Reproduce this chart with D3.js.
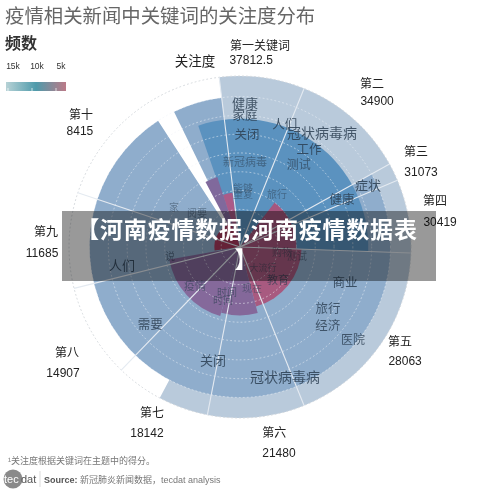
<!DOCTYPE html>
<html><head><meta charset="utf-8">
<script src="https://d3js.org/d3.v7.min.js"></script>
<style>html,body{margin:0;padding:0;background:#fff;}svg{display:block;filter:blur(.3px);}
text{font-family:"Liberation Sans","Noto Sans CJK SC",sans-serif;}</style>
</head><body><svg id="c" width="500" height="492"></svg>
<script>
// ---------- data (angles in degrees clockwise from north, scores 0-100) ----------
const outerStart=[-7], outerEnd=[208], outerScore=[100];
const midStart=[61,-26], midEnd=[327,-7], midScore=[88,88];
const deepStart=[-19], deepEnd=[92], deepScore=[75];
const hotStart=[-28,-18,38,92,165,196,262], hotEnd=[-18,-8,92,165,196,260,340];
const hotScore=[43,32,33,36,40,42,15];
const hotFill=["#80699c","#ab5b88","#a6567e","#a85a80","#84689a","#85699b","#a83a5c"];
const spokes=[-7,22,61,67,92,158,191,224,256,288.5];
const rings=[11,22,33,44,55,66,77,88,100];
const sectorNames=["第一关键词","第二","第三","第四","第五","第六","第七","第八","第九","第十"];
const sectorValues=["37812.5","34900","31073","30419","28063","21480","18142","14907","11685","8415"];
const nameAngle=[5.7,39,61.6,76.7,120.7,169.6,207.9,238.5,274.4,309.7];
const nameScore=[118.1,122.7,117,117.2,108.8,110.6,109.9,118.6,113.8,120.9];
const valueAngle=[3.4,43.2,67.5,82.9,124.6,169.3,206.6,234.6,268.3,305.9];
const valueScore=[109.5,117.1,114.6,117.9,117.3,122.6,121.6,127,115.8,115.6];
const words=["健康","家庭","关闭","新冠病毒","能够","重复","旅行","人们","冠状病毒病","工作","测试","症状","健康","家","阅要","说","人们","需要","关闭","冠状病毒病","医院","旅行","经济","商业","疫情","时间","时间","现在","教育","购物","大流行","测试"];
const wordAngle=[2,2.2,3.6,3.4,2.9,3.3,34.9,20.2,35.7,35.4,35.7,64.5,65.3,301.2,308.3,262,261.3,229,193.3,160.9,129.5,125.2,131.9,108.9,229,196,197.8,164,131,98,132.4,99];
const wordScore=[83.7,76.7,65.6,49.8,34.5,30.5,37.8,76,82.1,69.6,59,82.9,65.7,45.1,32,41.3,69.8,69.6,68.5,80.5,85.6,63,69,64.9,34.8,27.4,32.6,25.5,29.4,24.8,18.2,33.7];
const wordSize=[13,12.5,12.5,11,10,10,10,12.5,14,12.5,12,13,12.5,10,10,10,13,12.5,13,14,12,12.5,12.5,12.5,11,10,10,10,11,10,9,10];
const wordOpacity=[.85,.85,.85,.55,.5,.5,.5,.85,.85,.85,.7,.85,.85,.5,.5,.6,.85,.85,.85,.85,.8,.8,.8,.85,.6,.6,.6,.5,.7,.5,.5,.5];
const legendTicks=["15k","10k","5k"];

const svg=d3.select("#c");
const cx=240,cy=247;
const r=d3.scaleLinear().domain([0,100]).range([0,171]);
const ang=d3.scaleLinear().domain([0,360]).range([0,2*Math.PI]);
const arc=d3.arc();
const g=svg.append("g").attr("transform",`translate(${cx},${cy})`);
const polar=(a,s)=>[r(s)*Math.sin(ang(a)),-r(s)*Math.cos(ang(a))];

function layer(st,en,sc,fill){
  g.append("g").selectAll("path").data(st).join("path")
   .attr("d",(d,i)=>arc({innerRadius:0,outerRadius:r(sc[i]),startAngle:ang(st[i]),endAngle:ang(en[i])}))
   .attr("fill",(d,i)=>Array.isArray(fill)?fill[i]:fill);
}
layer(outerStart,outerEnd,outerScore,"#b9cadb");
layer(midStart,midEnd,midScore,"#8fadcc");
layer(deepStart,deepEnd,deepScore,"#5b92bf");
layer(hotStart,hotEnd,hotScore,hotFill);

g.append("g").selectAll("circle").data(rings).join("circle")
 .attr("r",d=>r(d)).attr("fill","none")
 .attr("stroke",d=>d===100?"#d4d8dc":"#eef3f8").attr("stroke-width",1)
 .attr("stroke-dasharray","1 3").attr("stroke-linecap","round").attr("opacity",d=>d===100?1:.55);

g.append("g").selectAll("line").data(spokes).join("line")
 .attr("x1",0).attr("y1",0)
 .attr("x2",d=>polar(d,100)[0]).attr("y2",d=>polar(d,100)[1])
 .attr("stroke","#e4eaf1").attr("stroke-width",1.1);

g.append("g").selectAll("text").data(words).join("text")
 .attr("x",(d,i)=>polar(wordAngle[i],wordScore[i])[0])
 .attr("y",(d,i)=>polar(wordAngle[i],wordScore[i])[1])
 .attr("text-anchor","middle").attr("dominant-baseline","central")
 .attr("font-size",(d,i)=>wordSize[i]).attr("fill","#2c3f52")
 .attr("opacity",(d,i)=>wordOpacity[i]).text(d=>d);

g.append("g").selectAll("text").data(sectorNames).join("text")
 .attr("x",(d,i)=>polar(nameAngle[i],nameScore[i])[0])
 .attr("y",(d,i)=>polar(nameAngle[i],nameScore[i])[1])
 .attr("text-anchor","middle").attr("dominant-baseline","central")
 .attr("font-size",12).attr("fill","#222").text(d=>d);
g.append("g").selectAll("text").data(sectorValues).join("text")
 .attr("x",(d,i)=>polar(valueAngle[i],valueScore[i])[0])
 .attr("y",(d,i)=>polar(valueAngle[i],valueScore[i])[1])
 .attr("text-anchor","middle").attr("dominant-baseline","central")
 .attr("font-size",12).attr("fill","#222").text(d=>d);

svg.append("text").attr("x",195).attr("y",61).attr("text-anchor","middle").attr("dominant-baseline","central")
 .attr("font-size",13.5).attr("fill","#222").text("关注度");

// title and legend
svg.append("text").attr("x",5).attr("y",23).attr("font-size",19.4).attr("fill","#666").text("疫情相关新闻中关键词的关注度分布");
svg.append("text").attr("x",5).attr("y",49).attr("font-size",16).attr("font-weight","bold").attr("fill","#333").text("频数");
const defs=svg.append("defs");
const lg=defs.append("linearGradient").attr("id","lg");
lg.append("stop").attr("offset","0%").attr("stop-color","#b7d2d6");
lg.append("stop").attr("offset","50%").attr("stop-color","#4f9bab");
lg.append("stop").attr("offset","100%").attr("stop-color","#bc7a88");
const lx=d3.scalePoint().domain(legendTicks).range([13,61]);
svg.append("rect").attr("x",6).attr("y",82).attr("width",60).attr("height",9).attr("fill","url(#lg)");
svg.append("g").selectAll("text").data(legendTicks).join("text")
 .attr("x",d=>lx(d)).attr("y",69).attr("text-anchor","middle").attr("font-size",8.5).attr("fill","#333").text(d=>d);
svg.append("g").selectAll("line").data(legendTicks).join("line")
 .attr("x1",d=>lx(d)-5).attr("x2",d=>lx(d)-5).attr("y1",88).attr("y2",91).attr("stroke","#fff").attr("stroke-width",.7);

// footer
svg.append("text").attr("x",8).attr("y",464).attr("font-size",9).attr("fill","#777").text("¹关注度根据关键词在主题中的得分。");
svg.append("circle").attr("cx",13).attr("cy",479).attr("r",9.5).attr("fill","#8a8a8a");
svg.append("text").attr("x",4).attr("y",483).attr("font-size",11).attr("fill","#fff").text("tec");
svg.append("text").attr("x",21).attr("y",483).attr("font-size",11).attr("fill","#555").text("dat");
svg.append("line").attr("x1",40).attr("x2",40).attr("y1",471).attr("y2",487).attr("stroke","#ccc").attr("stroke-width",.7);
const src=svg.append("text").attr("x",44).attr("y",483).attr("font-size",9).attr("fill","#777");
src.append("tspan").attr("font-weight","bold").attr("fill","#555").text("Source: ");
src.append("tspan").text("新冠肺炎新闻数据，tecdat analysis");

// banner
svg.append("rect").attr("x",62).attr("y",211).attr("width",374).attr("height",70).attr("fill","#000").attr("opacity",.4);
const bt=svg.append("g").attr("font-size",23).attr("font-weight","bold").attr("fill","#fff").attr("text-anchor","middle")
 .attr("style","font-family:'Noto Sans CJK SC',sans-serif");
bt.append("text").attr("x",247).attr("y",238).attr("letter-spacing",.8).attr("style","font-family:'Noto Sans CJK SC',sans-serif").text("【河南疫情数据,河南疫情数据表");
bt.append("text").attr("x",246).attr("y",268).attr("style","font-family:'Noto Sans CJK SC',sans-serif").text("】");
</script></body></html>
